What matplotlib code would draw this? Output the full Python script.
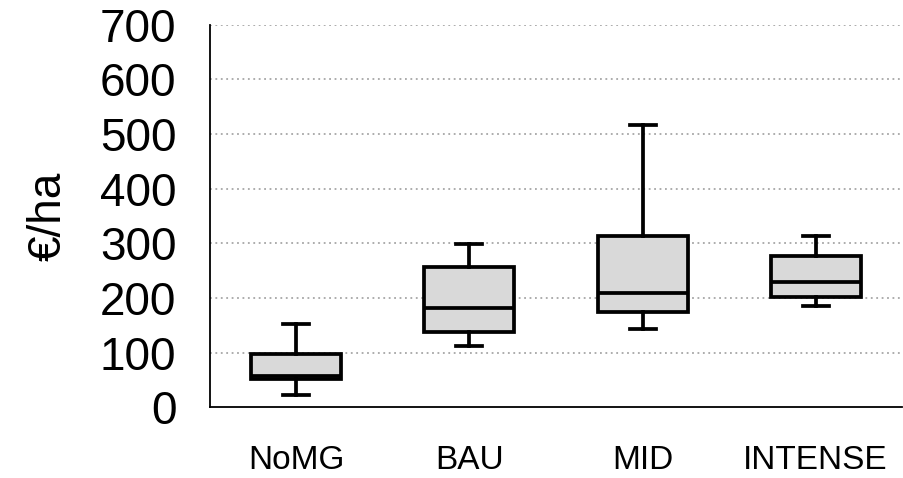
import matplotlib
matplotlib.use("Agg")
import matplotlib.pyplot as plt

categories = ["NoMG", "BAU", "MID", "INTENSE"]
whislo = [22, 113, 143, 185]
q1 = [51, 137, 174, 201]
med = [57, 181, 210, 230]
q3 = [97, 256, 313, 276]
whishi = [152, 298, 517, 314]
yticks = [0, 100, 200, 300, 400, 500, 600, 700]

plt.rcParams['font.family'] = ['Liberation Sans', 'DejaVu Sans']

fig = plt.figure(figsize=(9.04, 4.78), dpi=100)
ax = fig.add_axes([0.232, 0.148, 0.766, 0.800])

stats = []
for i, c in enumerate(categories):
    stats.append(dict(label=c, whislo=whislo[i], q1=q1[i], med=med[i],
                      q3=q3[i], whishi=whishi[i], fliers=[]))

positions = list(range(len(categories)))
lw = 2.7
ax.bxp(stats, positions=positions, widths=0.52, capwidths=0.15,
       patch_artist=True, showfliers=False,
       boxprops=dict(facecolor="#d9d9d9", edgecolor="black", linewidth=lw),
       medianprops=dict(color="black", linewidth=lw),
       whiskerprops=dict(color="black", linewidth=lw),
       capprops=dict(color="black", linewidth=lw), zorder=3)

ax.set_xlim(-0.5, len(categories) - 0.5)
ax.set_ylim(0, 700)
ax.set_yticks(yticks)
ax.set_yticklabels([str(v) for v in yticks], fontsize=33)
ax.set_xticks(positions)
ax.set_xticklabels(categories, fontsize=24)
ax.tick_params(axis='both', length=0)
ax.tick_params(axis='y', pad=24)
ax.tick_params(axis='x', pad=27)

for v in yticks[1:]:
    ax.axhline(v, color="#a6a6a6", linestyle=(0, (1, 2)), linewidth=1.3, zorder=1)

ax.spines['top'].set_visible(False)
ax.spines['right'].set_visible(False)
ax.spines['left'].set_linewidth(1.3)
ax.spines['bottom'].set_linewidth(1.3)

ax.set_ylabel("€/ha", fontsize=33, labelpad=21)

fig.savefig("out.png", dpi=100)
